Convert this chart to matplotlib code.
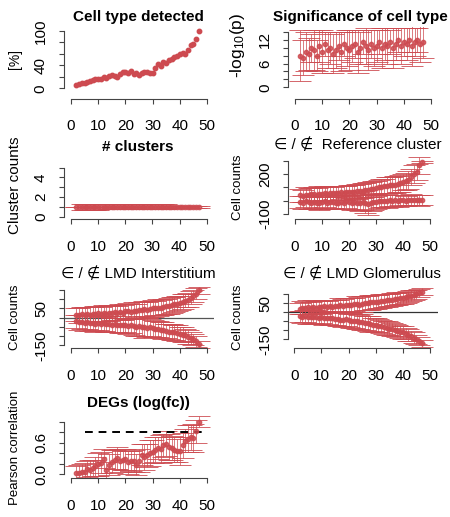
import numpy as np
import matplotlib
matplotlib.use('Agg')
import matplotlib.pyplot as plt

plt.rcParams['font.family'] = ['Liberation Sans', 'DejaVu Sans']
plt.rcParams['mathtext.fontset'] = 'custom'
plt.rcParams['mathtext.rm'] = 'Liberation Sans'
plt.rcParams['mathtext.it'] = 'Liberation Sans'

# sample index (x positions)
idx = np.arange(2, 48)

# Cell type detected [%]
detected = [6, 8, 9, 10, 11, 13, 14, 16, 17, 16, 19, 18, 22, 23, 21, 20, 25, 29, 28, 27,
            31, 25, 27, 24, 27, 29, 28, 27, 27, 36, 42, 39, 46, 44, 49, 51, 54, 57, 59, 61,
            60, 66, 75, 77, 86, 100]

# Significance of cell type (-log10 p)
sig_mean = [8.0, 7.5, 9.0, 8.5, 10.0, 9.5, 8.0, 10.5, 9.0, 11.0, 9.5, 10.0, 8.5, 9.5, 10.5, 9.0,
            11.0, 10.0, 9.5, 10.5, 11.0, 9.0, 10.0, 11.5, 10.5, 9.5, 11.0, 10.0, 10.5, 11.5, 10.0,
            11.0, 10.5, 11.5, 10.0, 11.0, 12.0, 10.5, 11.5, 11.0, 12.0, 10.5, 11.5, 12.0, 11.0, 11.5]
sig_err = [6.5, 4.5, 5.0, 4.0, 3.5, 5.0, 4.0, 4.0, 5.5, 3.0, 4.5, 4.0, 5.0, 4.5, 3.5, 5.0,
           3.0, 4.5, 5.0, 4.0, 3.5, 5.5, 4.0, 3.0, 4.5, 5.0, 3.5, 4.5, 4.0, 3.0, 5.0,
           4.0, 4.5, 3.0, 5.0, 4.0, 3.0, 4.5, 3.5, 4.0, 3.0, 5.0, 3.5, 3.0, 4.5, 4.0]

# number of clusters
clusters = [1, 1, 1, 1, 1, 1, 1, 1, 1, 1, 1, 1, 1, 1, 1, 1, 1, 1, 1, 1, 1, 1, 1,
            1, 1, 1, 1, 1, 1, 1, 1, 1, 1, 1, 1, 1, 1, 1, 1, 1, 1, 1, 1, 1, 1, 1]
clusters_err = [0, 0, 0.3, 0.3, 0.3, 0.3, 0.3, 0.3, 0.3, 0, 0, 0, 0.25, 0.25, 0.25, 0.25,
                0.25, 0.25, 0.25, 0.25, 0.25, 0, 0.25, 0.25, 0.25, 0.25, 0.25, 0.25, 0.25, 0.25,
                0.25, 0.25, 0.25, 0.25, 0.1, 0.1, 0.1, 0.1, 0.1, 0.1, 0.1, 0.1, 0.1, 0.1, 0.1, 0.1]

# reference cluster: in / not in
ref_in = [40, 35, 45, 42, 50, 48, 45, 52, 50, 55, 53, 58, 55, 60, 57, 62, 60, 65, 63, 68,
          66, 70, 72, 75, 78, 82, 85, 90, 92, 100, 105, 110, 112, 118, 115, 120, 125, 130, 140, 145,
          155, 180, 200, 215, 265, 290]
ref_in_err = [50, 45, 55, 50, 48, 52, 50, 55, 50, 52, 48, 55, 50, 52, 55, 50, 52, 48, 55, 50,
              52, 55, 50, 55, 52, 58, 55, 60, 55, 58, 60, 55, 62, 58, 60, 62, 60, 65, 60, 62,
              65, 60, 65, 60, 65, 10]
ref_out = [-10, -15, -5, -12, -18, -8, -14, -20, -10, -6, -16, -12, -8, -18, -14, -10, -20, -6, -12, -16,
           -10, -15, -18, -12, -20, -25, -15, -10, -8, -5, -2, 0, -4, 2, 0, 3, -2, 5, 2, 0,
           4, 6, 2, 5, 3, 4]
ref_out_err = [45, 50, 40, 48, 45, 50, 42, 48, 50, 45, 48, 42, 50, 45, 48, 50, 45, 50, 48, 52,
               50, 55, 60, 58, 70, 85, 65, 60, 55, 50, 48, 45, 50, 42, 45, 40, 45, 40, 42, 38,
               40, 42, 38, 40, 42, 38]

# LMD interstitium: in / not in
int_in = [15, 12, 18, 14, 20, 17, 22, 19, 23, 21, 25, 22, 27, 24, 29, 26, 31, 28, 34, 36,
          33, 38, 36, 40, 42, 45, 43, 47, 50, 52, 55, 54, 58, 62, 64, 68, 72, 76, 82, 86,
          92, 98, 108, 118, 130, 148]
int_in_err = [35, 40, 38, 42, 36, 40, 38, 44, 40, 38, 42, 40, 44, 38, 42, 40, 45, 42, 40, 44,
              42, 45, 40, 44, 42, 46, 44, 42, 45, 40, 44, 42, 45, 40, 42, 44, 40, 42, 38, 40,
              36, 38, 35, 32, 30, 20]
int_out = [-20, -25, -22, -28, -24, -30, -27, -32, -29, -34, -31, -36, -33, -38, -35, -40, -37, -42, -39, -44,
           -41, -46, -48, -45, -50, -52, -55, -53, -58, -60, -63, -66, -68, -72, -75, -78, -80, -84, -88, -92,
           -96, -102, -110, -118, -128, -145]
int_out_err = [35, 40, 38, 42, 36, 40, 38, 44, 40, 38, 42, 40, 44, 38, 42, 40, 45, 42, 40, 44,
               42, 45, 50, 55, 48, 60, 52, 45, 48, 42, 44, 42, 45, 40, 42, 44, 40, 42, 38, 40,
               36, 38, 35, 32, 30, 20]

# LMD glomerulus: in / not in
glo_in = [20, 25, 22, 28, 24, 30, 26, 31, 28, 33, 30, 35, 32, 37, 34, 39, 36, 40, 42, 38,
          44, 46, 43, 48, 50, 52, 55, 58, 57, 60, 62, 65, 66, 68, 70, 73, 76, 78, 81, 84,
          88, 92, 96, 100, 108, 115]
glo_in_err = [32, 36, 34, 38, 35, 36, 38, 34, 36, 38, 35, 36, 38, 34, 36, 38, 40, 38, 36, 40,
              38, 42, 40, 45, 38, 40, 42, 38, 40, 36, 38, 36, 38, 35, 36, 34, 35, 32, 34, 30,
              32, 30, 28, 26, 24, 18]
glo_out = [-22, -26, -20, -25, -28, -24, -27, -30, -26, -32, -29, -34, -31, -36, -38, -40, -42, -39, -44, -46,
           -48, -50, -53, -56, -58, -62, -65, -68, -70, -74, -78, -82, -86, -90, -95, -100, -104, -108, -112, -118,
           -125, -132, -140, -150, -160, -172]
glo_out_err = [32, 36, 34, 38, 35, 36, 38, 34, 36, 38, 35, 36, 38, 34, 36, 38, 40, 38, 36, 40,
               38, 42, 40, 45, 38, 40, 42, 38, 40, 36, 38, 36, 38, 35, 36, 34, 35, 32, 34, 30,
               32, 30, 28, 26, 24, 18]

# DEGs (log fc) pearson correlation
deg = [0.03, 0.02, 0.05, 0.04, 0.10, 0.08, 0.12, 0.15, 0.19, 0.22, 0.30, 0.08, 0.18, 0.24, 0.28, 0.31,
       0.26, 0.27, 0.29, 0.23, 0.26, 0.25, 0.18, 0.26, 0.37, 0.33, 0.36, 0.40, 0.43, 0.47, 0.50, 0.48,
       0.55, 0.58, 0.52, 0.50, 0.47, 0.45, 0.44, 0.55, 0.64, 0.68, 0.70, 0.69, 0.82, 1.00]
deg_err = [0.12, 0.15, 0.14, 0.18, 0.16, 0.20, 0.15, 0.18, 0.22, 0.20, 0.18, 0.16, 0.20, 0.22, 0.18, 0.20,
           0.22, 0.18, 0.20, 0.22, 0.19, 0.21, 0.20, 0.22, 0.20, 0.24, 0.22, 0.25, 0.22, 0.24, 0.20, 0.26,
           0.22, 0.24, 0.25, 0.22, 0.24, 0.22, 0.26, 0.24, 0.22, 0.25, 0.24, 0.26, 0.22, 0.10]
deg_cutoff = 0.8

W, H = 450, 517
RED = '#cd4a50'
AXC = '#444444'
xticks = [0, 10, 20, 30, 40, 50]

fig = plt.figure(figsize=(4.5, 5.17), dpi=100)


def panel(box, xcal, ycal, yticks, ylabels):
    # box in pixels (left, top, right, bottom); cal = two (value, pixel) pairs
    l, t, r, b = box
    ax = fig.add_axes([l / W, 1 - b / H, (r - l) / W, (b - t) / H])
    (xa, pa), (xb, pb) = xcal
    sx = (pb - pa) / (xb - xa)
    ax.set_xlim(xa + (l - pa) / sx, xa + (r - pa) / sx)
    (ya, qa), (yb, qb) = ycal
    sy = (qb - qa) / (yb - ya)
    ax.set_ylim(ya + (b - qa) / sy, ya + (t - qa) / sy)
    ax.patch.set_alpha(0)
    ax.spines['top'].set_visible(False)
    ax.spines['right'].set_visible(False)
    for s in ['left', 'bottom']:
        ax.spines[s].set_color(AXC)
        ax.spines[s].set_linewidth(0.8)
    ax.spines['left'].set_bounds(yticks[0], yticks[-1])
    ax.spines['bottom'].set_bounds(0, 50)
    ax.set_xticks(xticks)
    ax.set_xticklabels([str(v) for v in xticks])
    ax.set_yticks(yticks)
    ax.set_yticklabels(ylabels, rotation=90, va='center')
    ax.tick_params(direction='out', length=3.6, width=0.8, color=AXC, labelsize=11)
    ax.tick_params(axis='x', pad=11)
    ax.tick_params(axis='y', pad=8)
    return ax


def ebar(ax, y, err, cap=8):
    ax.errorbar(idx, y, yerr=err, fmt='o', color=RED, ms=3.1, elinewidth=0.6,
                ecolor=RED, capsize=cap, capthick=0.7, alpha=0.85)


def title(x, y, s, bold=True, size=11):
    fig.text(x / W, 1 - y / H, s, ha='center', va='center', fontsize=size,
             fontweight='bold' if bold else 'normal')


def ylab(x, y, s, size=9.5):
    fig.text(x / W, 1 - y / H, s, ha='center', va='center', rotation=90, fontsize=size)


# Cell type detected
ax1 = panel((63.5, 27, 214, 99), ((0, 71), (50, 207)), ((0, 88.3), (100, 31)),
            [0, 20, 40, 60, 80, 100], ['0', '', '40', '', '', '100'])
ax1.plot(idx, detected, 'o', color=RED, ms=3.2)
title(138, 17, 'Cell type detected')
ylab(15, 59, '[%]', 10)

# Significance
ax2 = panel((288, 27, 438, 99), ((0, 295), (50, 431)), ((0, 87.3), (14, 32)),
            [0, 2, 4, 6, 8, 10, 12, 14], ['0', '', '', '6', '', '', '12', ''])
ebar(ax2, sig_mean, sig_err)
title(360, 17, 'Significance of cell type')
ylab(238, 45, '-log$_{10}$(p)', 12.5)

# clusters
ax3 = panel((64, 160, 214, 219.3), ((0, 71), (50, 206.7)), ((0, 216.7), (5, 167.7)),
            [0, 1, 2, 3, 4, 5], ['0', '', '2', '', '4', ''])
ebar(ax3, clusters, clusters_err)
title(138, 147, '# clusters')
ylab(15, 185, 'Cluster counts', 11)

# Reference cluster
ax4 = panel((288, 155, 438, 219.3), ((0, 295), (50, 430)), ((-100, 214), (300, 160.7)),
            [-100, 0, 100, 200, 300], ['-100', '', '', '200', ''])
ebar(ax4, ref_out, ref_out_err)
ebar(ax4, ref_in, ref_in_err)
title(358, 144, '\u2208 / \u2209  Reference cluster', bold=False)
ylab(238, 187, 'Cell counts')

# LMD interstitium
ax5 = panel((64, 285, 214, 348.3), ((0, 71), (50, 207)), ((0, 317.7), (150, 290)),
            [-150, -100, -50, 0, 50, 100, 150], ['-150', '', '', '', '50', '', ''])
ax5.axhline(0, color='#555555', lw=0.9, zorder=0)
ebar(ax5, int_in, int_in_err)
ebar(ax5, int_out, int_out_err)
title(138, 273, '\u2208 / \u2209 LMD Interstitium', bold=False)
ylab(15, 317, 'Cell counts')

# LMD glomerulus
ax6 = panel((288, 285, 438, 348.3), ((0, 294.3), (50, 430)), ((0, 312.3), (100, 294.3)),
            [-150, -100, -50, 0, 50, 100], ['-150', '', '', '', '50', ''])
ax6.axhline(0, color='#333333', lw=0.9, zorder=0)
ebar(ax6, glo_in, glo_in_err)
ebar(ax6, glo_out, glo_out_err)
title(362, 273, '\u2208 / \u2209 LMD Glomerulus', bold=False)
ylab(238, 317, 'Cell counts')

# DEGs
ax7 = panel((64, 415, 214, 478.3), ((0, 71), (50, 207)), ((0, 474.3), (1, 421.7)),
            [0, 0.2, 0.4, 0.6, 0.8, 1.0], ['0.0', '', '', '0.6', '', ''])
ebar(ax7, deg, deg_err)
ax7.plot([5, 50], [deg_cutoff, deg_cutoff], color='black', lw=1.4, ls=(0, (4, 3)))
title(138, 403, 'DEGs (log(fc))')
ylab(15, 448, 'Pearson correlation')

fig.savefig('out.png', dpi=100)
